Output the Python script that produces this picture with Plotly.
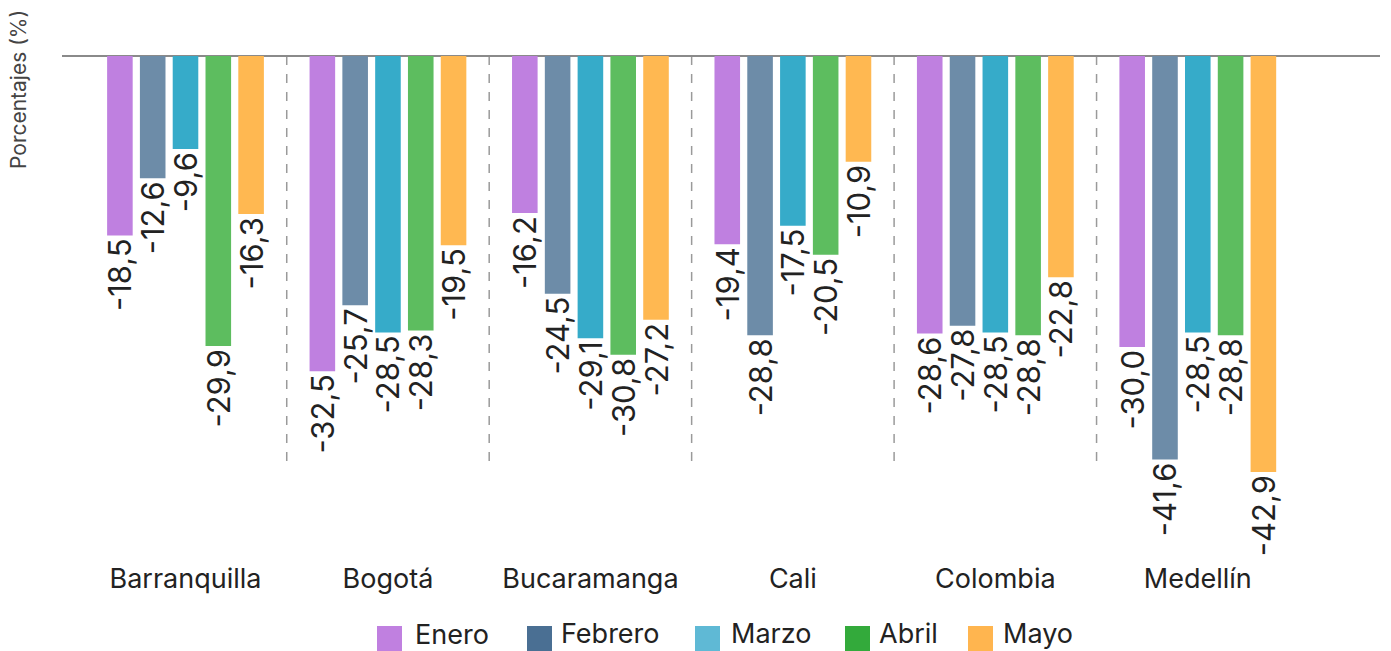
import plotly.graph_objects as go

# Data: percentage change by city and month
ciudades = ["Barranquilla", "Bogotá", "Bucaramanga", "Cali", "Colombia", "Medellín"]
meses = ["Enero", "Febrero", "Marzo", "Abril", "Mayo"]

enero = [-18.5, -32.5, -16.2, -19.4, -28.6, -30.0]
febrero = [-12.6, -25.7, -24.5, -28.8, -27.8, -41.6]
marzo = [-9.6, -28.5, -29.1, -17.5, -28.5, -28.5]
abril = [-29.9, -28.3, -30.8, -20.5, -28.8, -28.8]
mayo = [-16.3, -19.5, -27.2, -10.9, -22.8, -42.9]

series = [enero, febrero, marzo, abril, mayo]
bar_colors = ["#bf80e0", "#6d8ca8", "#36abc9", "#5dbd5f", "#ffb851"]
legend_colors = ["#c080e0", "#4a6f93", "#5fb9d5", "#33aa3b", "#ffb54f"]

FONT = "Inter"
W, H = 1391, 651
L, R, T, B = 62, 11, 10, 91
plot_w = W - L - R
plot_h = H - T - B

fig = go.Figure()
for name, vals, col in zip(meses, series, bar_colors):
    fig.add_trace(go.Bar(
        x=ciudades, y=vals, name=name,
        marker=dict(color=col, line=dict(width=0)),
        texttemplate="%{y:.1f}",
        textposition="outside",
        textangle=-90,
        constraintext="none",
        cliponaxis=False,
        textfont=dict(family=FONT, size=31, color="#222222"),
        showlegend=False,
    ))

# dashed separators between city groups
shapes = []
for i in range(len(ciudades) - 1):
    shapes.append(dict(
        type="line", xref="x", yref="y",
        x0=i + 0.5, x1=i + 0.5, y0=0, y1=-41.9,
        line=dict(color="#9a9a9a", width=1.5, dash="dash"),
        layer="below",
    ))

# legend drawn as squares plus labels below the plot
def px_to_paper_x(px):
    return (px - L) / plot_w

def px_to_paper_y(py):
    return (H - B - py) / plot_h

legend_sq_x = [377, 527, 695, 845, 968]
legend_tx_x = [413, 559, 729, 877, 1001]
legend_tx_y = [634, 633, 633, 633, 633]
annotations = []
for sx, tx, ty, name, col in zip(legend_sq_x, legend_tx_x, legend_tx_y, meses, legend_colors):
    shapes.append(dict(
        type="rect", xref="paper", yref="paper",
        x0=px_to_paper_x(sx), x1=px_to_paper_x(sx + 25),
        y0=px_to_paper_y(652), y1=px_to_paper_y(626),
        fillcolor=col, line=dict(width=0),
    ))
    annotations.append(dict(
        xref="paper", yref="paper",
        x=px_to_paper_x(tx), y=px_to_paper_y(ty),
        xanchor="left", yanchor="middle",
        text=name, showarrow=False,
        font=dict(family=FONT, size=27, color="#222222"),
    ))

annotations.append(dict(
    xref="paper", yref="paper",
    x=px_to_paper_x(18), y=px_to_paper_y(90),
    xanchor="center", yanchor="middle",
    text="Porcentajes (%)", textangle=-90, showarrow=False,
    font=dict(family=FONT, size=21, color="#444444"),
))

fig.update_layout(
    width=W, height=H,
    margin=dict(l=L, r=R, t=T, b=B),
    paper_bgcolor="white", plot_bgcolor="white",
    separators=",.",
    barmode="group",
    bargap=0.19,
    bargroupgap=0.22,
    showlegend=False,
    shapes=shapes,
    annotations=annotations,
    xaxis=dict(
        range=[-0.61, 5.9],
        showgrid=False, showline=False, ticks="",
        tickfont=dict(family=FONT, size=27, color="#222222"),
    ),
    yaxis=dict(
        range=[-51.96, 4.74],
        showgrid=False, showticklabels=False, ticks="",
        zeroline=True, zerolinecolor="#8a8a8a", zerolinewidth=2,
    ),
)

fig.write_html("out.html")
